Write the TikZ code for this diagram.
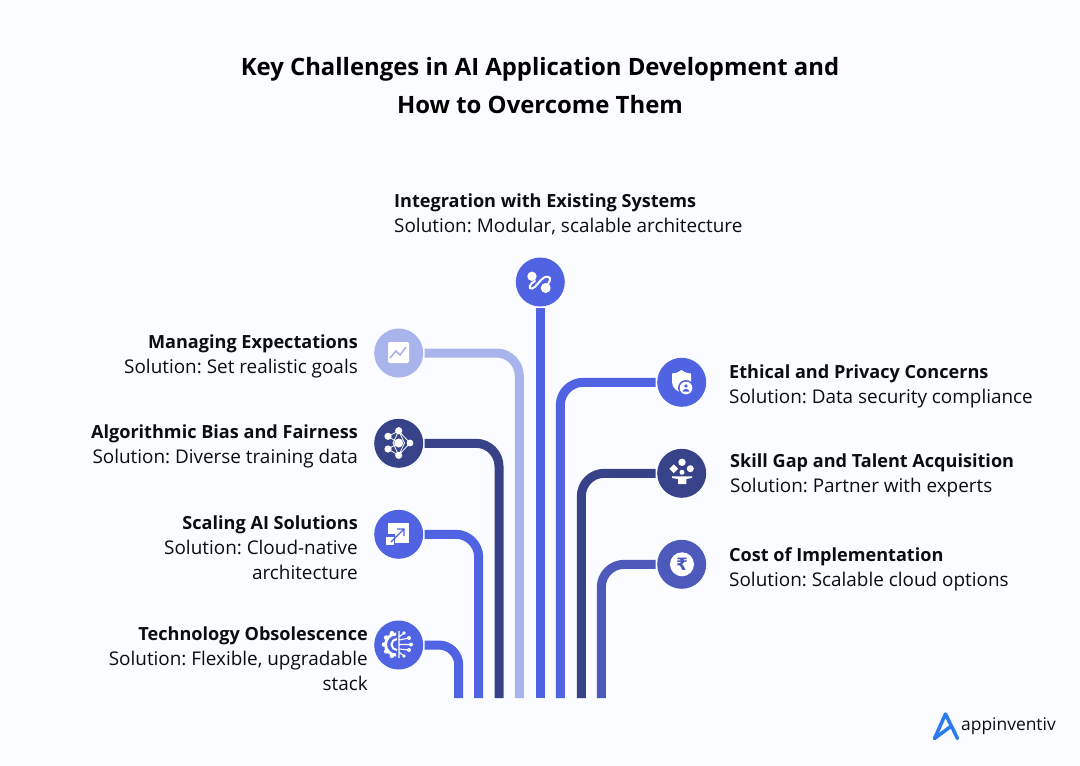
\documentclass[tikz,border=0pt]{standalone}
\usepackage{fontspec}
\setmainfont{Open Sans}
\newfontfamily\rupee{DejaVu Sans}
\definecolor{bgc}{HTML}{FAFCFF}
\definecolor{bluec}{HTML}{4F63E3}
\definecolor{darkc}{HTML}{384288}
\definecolor{lightc}{HTML}{AAB4EC}
\definecolor{costc}{HTML}{4D5ABB}
\definecolor{logoc}{HTML}{2B7BEF}
\definecolor{inkc}{HTML}{0C0C14}
\newcommand{\hd}[1]{{\fontsize{18.1}{25}\selectfont\bfseries #1}}
\tikzset{
 badge/.style={circle,minimum size=49pt,inner sep=0pt,outer sep=0pt,fill=#1},
 conn/.style={draw=#1,line width=9pt,rounded corners=23pt,shorten <=1.5pt},
 rlabel/.style={anchor=base east,align=right,inner sep=0pt,font=\fontsize{18.9}{25}\selectfont,text=inkc},
 llabel/.style={anchor=base west,align=left,inner sep=0pt,font=\fontsize{18.9}{25}\selectfont,text=inkc},
 titlestyle/.style={align=center,inner sep=0pt,font=\fontsize{23.9}{38}\selectfont\bfseries,text=black},
}
\begin{document}
\frenchspacing
\begin{tikzpicture}[x=1pt,y=-1pt]
\useasboundingbox[fill=bgc] (0,0) rectangle (1080,766);
\node[titlestyle,anchor=center] (title) at (540,86) {Key Challenges in AI Application Development and\\How to Overcome Them};
\coordinate (b1) at (458.7,698);
\coordinate (b2) at (478.7,698);
\coordinate (b3) at (499,698);
\coordinate (b4) at (519.3,698);
\coordinate (b5) at (540.3,698);
\coordinate (b6) at (560.3,698);
\coordinate (b7) at (581.3,698);
\coordinate (b8) at (601.3,698);
\node[badge=bluec] (integ) at (540.3,282) {};
\node[badge=lightc] (manage) at (398.7,353) {};
\node[badge=darkc] (algo) at (398.7,443.3) {};
\node[badge=bluec] (scale) at (398.7,534.3) {};
\node[badge=bluec] (tech) at (398.7,645) {};
\node[badge=bluec] (ethic) at (681.7,382.3) {};
\node[badge=darkc] (skill) at (681.7,473.3) {};
\node[badge=costc] (cost) at (681.7,564.3) {};
\draw[conn=bluec,rounded corners=0pt] (integ.south) -- (b5);
\draw[conn=lightc] (manage.east) -| (b4);
\draw[conn=darkc] (algo.east) -| (b3);
\draw[conn=bluec] (scale.east) -| (b2);
\draw[conn=bluec,rounded corners=20pt] (tech.east) -| (b1);
\draw[conn=bluec] (ethic.west) -| (b6);
\draw[conn=darkc] (skill.west) -| (b7);
\draw[conn=costc] (cost.west) -| (b8);
\node[llabel] (l1) at (394,232) {\hd{Integration with Existing Systems}\\Solution: Modular, scalable architecture};
\node[rlabel] (l2) at (358,373) {\hd{Managing Expectations}\\Solution: Set realistic goals};
\node[rlabel] (l3) at (358,463) {\hd{Algorithmic Bias and Fairness}\\Solution: Diverse training data};
\node[rlabel] (l4) at (358,579) {\hd{Scaling AI Solutions}\\Solution: Cloud-native\\architecture};
\node[rlabel] (l5) at (368,690) {\hd{Technology Obsolescence}\\Solution: Flexible, upgradable\\stack};
\node[llabel] (l6) at (729,403) {\hd{Ethical and Privacy Concerns}\\Solution: Data security compliance};
\node[llabel] (l7) at (730,492) {\hd{Skill Gap and Talent Acquisition}\\Solution: Partner with experts};
\node[llabel] (l8) at (729,586) {\hd{Cost of Implementation}\\Solution: Scalable cloud options};
% icons
\fill[white] (532,276.3) circle (4.7) (545.7,288) circle (5);
\draw[white,line width=2pt,line cap=round] (535,281) .. controls (529,284) and (528,289) .. (532,288.5) .. controls (536,288) and (540,279) .. (545,277) .. controls (550,275.5) and (552,279) .. (548,284);
\fill[white,rounded corners=2pt] (388,342) rectangle (409,363);
\draw[lightc,line width=1.6pt] (390,358) -- (396,351) -- (400,355) -- (406,347);
\draw[white,line width=.8pt] (398.7,431) -- (388,436.3) -- (398.7,443) -- (388,449) -- (398.7,455.3) -- (410,443) -- (398.7,431) -- (393,443) -- (398.7,455.3) -- (404.5,443) -- (398.7,431);
\fill[white] (398.7,430.7) circle (3.6) (388,436.3) circle (3.6) (388,449) circle (3.6) (398.7,455.3) circle (3.6) (410,443) circle (3.4) (398.7,443) circle (4.5);
\fill[white] (388,523) rectangle (409,543);
\fill[bluec] (385,534) rectangle (395,546);
\fill[white] (386,537) rectangle (394,545);
\draw[bluec,line width=1.2pt] (391,542) -- (403,530) (397,529) -- (404,529) -- (404,536);
\fill[white] (396,632.5) arc (270:90:12) -- (396,653.5) arc (90:270:9) -- cycle;
\draw[white,line width=2pt] (397,639) arc (270:90:5.5);
\foreach \a in {110,145,180,215,250}{\fill[white] (396,644.5)++(\a:12) circle (2.3);}
\draw[white,line width=1.1pt] (399,631) -- (399,658) (399,637) -- (404,633) (399,640) -- (409,638) (399,644.5) -- (411,644.5) (399,649) -- (409,650) (399,652) -- (404,656);
\fill[white] (404,633) circle (1.8) (404,656) circle (1.8) (409,638) circle (2) (411,644.5) circle (2) (409,650) circle (2);
\fill[white] (681.5,370) .. controls (677,373) and (675,373.5) .. (672,373.5) -- (672,382) .. controls (672,388) and (677,391) .. (681.5,393) .. controls (686,391) and (691,388) .. (691,382) -- (691,373.5) .. controls (688,373.5) and (686,373) .. (681.5,370) -- cycle;
\fill[bluec] (686,388) circle (8);
\fill[white] (686,388) circle (6.3);
\fill[bluec] (686,386) circle (1.8);
\fill[bluec] (682.6,391.6) arc (180:360:3.4 and 2.7) -- cycle;
\fill[white] (672,476.3) -- (692,476.3) -- (692,478) -- (686.3,479) -- (686.3,484) -- (678,484) -- (678,479) -- (672,478) -- cycle;
\fill[white] (682,462.3) circle (3.7) (690.3,468.7) circle (3.5) (682,472.3) circle (2.5);
\fill[white] (673.7,464.3) -- (678.1,468.7) -- (673.7,473.1) -- (669.3,468.7) -- cycle;
\fill[white] (682,564.3) circle (12);
\node[inner sep=0pt,text=costc,font=\rupee\fontsize{17}{17}\selectfont\bfseries] (rs) at (682,564.3) {₹};
\draw[logoc,line width=3.5pt,line join=round,line cap=round] (957.5,738.5) -- (945.5,714) -- (934.5,738.5) -- (950,727);
\node[anchor=base west,inner sep=0pt,text=inkc,font=\fontsize{17.4}{20}\selectfont] (logo) at (961,730.5) {appinventiv};
\end{tikzpicture}
\end{document}
